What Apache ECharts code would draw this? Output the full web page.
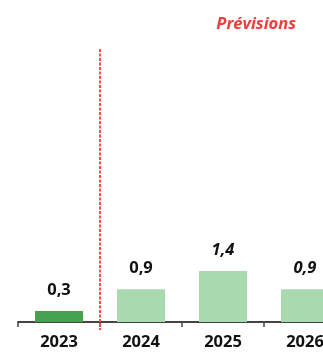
<!DOCTYPE html>
<html>
<head>
<meta charset="utf-8">
<script src="https://cdn.jsdelivr.net/npm/echarts@6/dist/echarts.min.js"></script>
<style>
  html, body { margin: 0; padding: 0; background: #fff; }
  #chart { width: 323px; height: 352px; }
</style>
</head>
<body>
<div id="chart"></div>
<script>
var years = ['2023', '2024', '2025', '2026'];
var values = [0.3, 0.9, 1.4, 0.9];
var forecast = [false, false, true, true];
var actualYears = 1; // 2023 is actual, the rest forecast

var chart = echarts.init(document.getElementById('chart'));

function fmt(v) {
  return String(v).replace('.', ',');
}

var barData = values.map(function (v, i) {
  return {
    value: v,
    itemStyle: { color: i < actualYears ? '#46a24f' : '#a9d9ae' },
    label: { fontStyle: forecast[i] ? 'italic' : 'normal' }
  };
});

var option = {
  animation: false,
  title: {
    text: 'Prévisions',
    right: 22,
    top: 11,
    textStyle: {
      color: '#f03c3c',
      fontStyle: 'italic',
      fontWeight: 'bold',
      fontSize: 16.5,
      fontFamily: 'Open Sans'
    }
  },
  grid: { left: 18, top: 49, width: 328, height: 273, outerBoundsMode: 'none', containLabel: false },
  xAxis: {
    type: 'category',
    data: years,
    axisLine: { lineStyle: { color: '#444', width: 1.8 } },
    axisTick: { show: true, length: 5, lineStyle: { color: '#444', width: 1.5 } },
    axisLabel: {
      color: '#111',
      fontSize: 16.5,
      fontWeight: 'bold',
      fontFamily: 'Open Sans',
      margin: 12
    }
  },
  yAxis: {
    type: 'value',
    min: 0,
    max: 7.5,
    show: false,
    splitLine: { show: false }
  },
  series: [{
    type: 'bar',
    data: barData,
    barWidth: 48,
    label: {
      show: true,
      position: 'top',
      distance: 12,
      color: '#111',
      fontSize: 16.5,
      fontWeight: 'bold',
      fontFamily: 'Open Sans',
      formatter: function (p) { return fmt(p.value); }
    }
  }]
};
chart.setOption(option);

// dashed separator between actual and forecast years
var xa = chart.convertToPixel({ xAxisIndex: 0 }, years[actualYears - 1]);
var xb = chart.convertToPixel({ xAxisIndex: 0 }, years[actualYears]);
var sepX = Math.round((xa + xb) / 2);
var sepTop = chart.convertToPixel({ yAxisIndex: 0 }, 7.5);
var sepBottom = chart.convertToPixel({ yAxisIndex: 0 }, 0);
chart.setOption({
  graphic: [{
    type: 'line',
    shape: { x1: sepX, y1: sepTop, x2: sepX, y2: sepBottom + 8 },
    style: { stroke: '#ff4d4d', lineWidth: 2, lineDash: [3, 1.5] },
    z: 10
  }]
});
</script>
</body>
</html>
